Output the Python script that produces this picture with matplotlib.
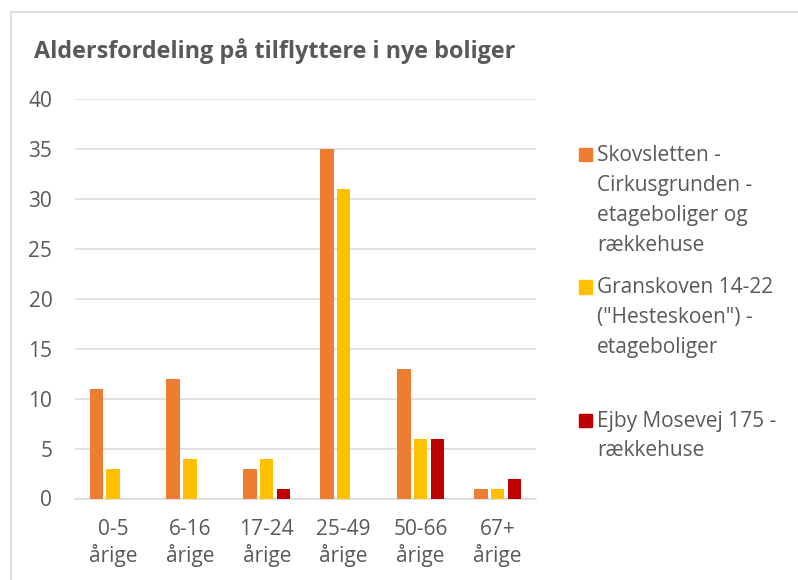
import numpy as np
import matplotlib
matplotlib.use("Agg")
import matplotlib.pyplot as plt
from matplotlib.lines import Line2D
from matplotlib.patches import Rectangle

plt.rcParams["font.family"] = ["Open Sans", "DejaVu Sans"]

TEXT_COLOR = "#595959"
GRID_COLOR = "#D9D9D9"

title = "Aldersfordeling på tilflyttere i nye boliger"
categories = ["0-5\nårige", "6-16\nårige", "17-24\nårige", "25-49\nårige", "50-66\nårige", "67+\nårige"]
series_names = [
    "Skovsletten -\nCirkusgrunden -\netageboliger og\nrækkehuse",
    "Granskoven 14-22\n(\"Hesteskoen\") -\netageboliger",
    "Ejby Mosevej 175 -\nrækkehuse",
]
skovsletten = [11, 12, 3, 35, 13, 1]
granskoven = [3, 4, 4, 31, 6, 1]
ejby = [0, 0, 1, 0, 6, 2]
series_colors = ["#ED7D31", "#FFC000", "#C00000"]

W, H = 798, 580
fig = plt.figure(figsize=(W / 100, H / 100), dpi=100)
ax = fig.add_axes([74.5 / W, 1 - 498.5 / H, (536 - 74.5) / W, (498.5 - 99) / H])

x = np.arange(len(categories))
bar_w = 0.174
step = 0.217
for i, vals in enumerate([skovsletten, granskoven, ejby]):
    ax.bar(x + (i - 1) * step, vals, width=bar_w, color=series_colors[i], zorder=3)

ax.set_xlim(-0.5, len(categories) - 0.5)
ax.set_ylim(0, 40)
ax.set_yticks(range(0, 41, 5))
ax.set_xticks(x)
ax.set_xticklabels(categories, linespacing=1.25)
ax.tick_params(axis="both", length=0, labelsize=15, labelcolor=TEXT_COLOR)
ax.tick_params(axis="y", pad=16)
ax.tick_params(axis="x", pad=14.5)
ax.grid(axis="y", color=GRID_COLOR, linewidth=1.1, zorder=0)
for side in ["top", "right", "left"]:
    ax.spines[side].set_visible(False)
ax.spines["bottom"].set_color(GRID_COLOR)
ax.spines["bottom"].set_linewidth(1.1)

# title
fig.text(34 / W, 1 - 58 / H, title, fontsize=16.8, fontweight="bold",
         color=TEXT_COLOR, va="baseline", ha="left")

# legend drawn by hand so the marker sits on the first line
first_baselines = [160.5, 293, 426.5]
line_gap = 30
for name, color, y0 in zip(series_names, series_colors, first_baselines):
    fig.patches.append(Rectangle((578.5 / W, 1 - (y0 + 0.5) / H), 13.5 / W, 13.5 / H,
                                 transform=fig.transFigure, color=color))
    for k, line in enumerate(name.split("\n")):
        fig.text(597 / W, 1 - (y0 + k * line_gap) / H, line, fontsize=15,
                 color=TEXT_COLOR, va="baseline", ha="left")

# chart border
fig.lines.append(Line2D([11 / W, 11 / W], [0, 1 - 12 / H], transform=fig.transFigure,
                        color=GRID_COLOR, linewidth=1.2))
fig.lines.append(Line2D([11 / W, 1], [1 - 12 / H, 1 - 12 / H], transform=fig.transFigure,
                        color=GRID_COLOR, linewidth=1.2))

fig.savefig("out.png", dpi=100)
